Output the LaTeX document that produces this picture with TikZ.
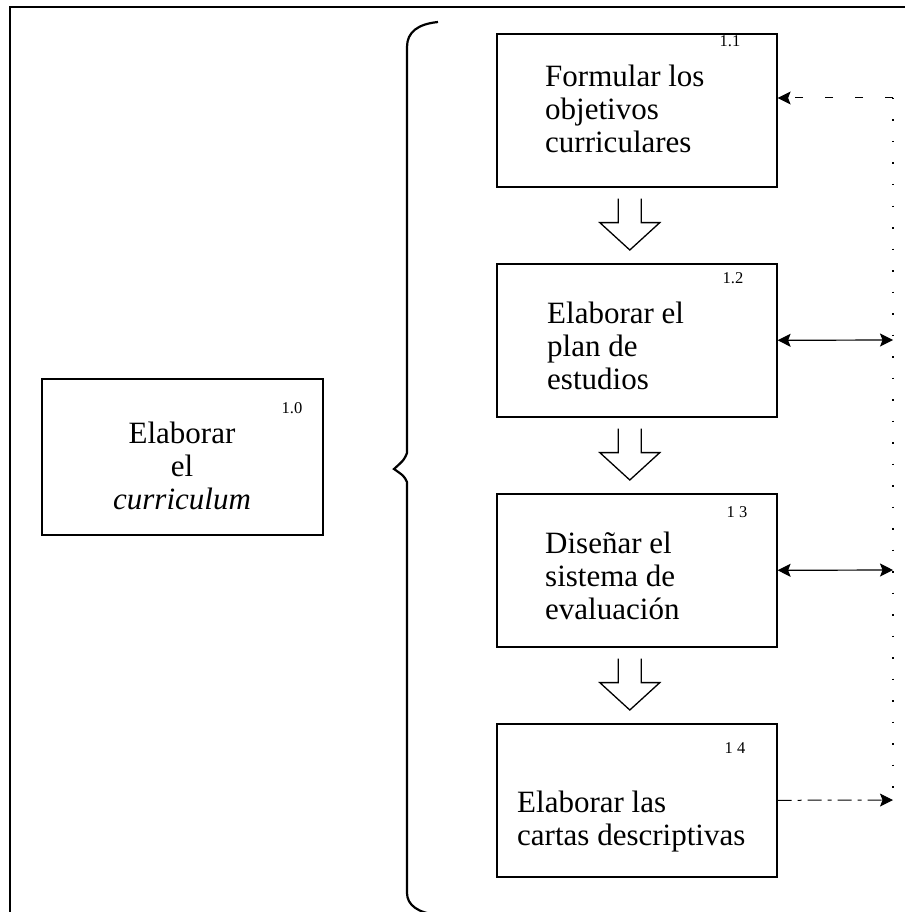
\documentclass[tikz,border=0pt]{standalone}
\usepackage{fontspec}
\setmainfont{Liberation Serif}
\usetikzlibrary{arrows.meta,calc}
\newcommand\hollowarr[2]{%
  \draw[hollow] let \p1=(#1.south), \p2=(#2.north) in
    (\x1-18.5pt,\y1-11pt) -- (\x1-18.5pt,\y1-35pt) -- (\x1-37pt,\y1-35pt) --
    (\x1-7pt,\y2+13pt) -- (\x1+23pt,\y1-35pt) -- (\x1+4.5pt,\y1-35pt) --
    (\x1+4.5pt,\y1-11pt);}
\begin{document}
\begin{tikzpicture}[x=1pt,y=-1pt,
  box/.style={draw,line width=1.6pt,minimum width=280pt,minimum height=153pt,
    inner sep=0pt,anchor=north west},
  txt/.style={anchor=base west,inner sep=0pt,font=\fontsize{31}{33}\selectfont},
  num/.style={anchor=base,inner sep=0pt,font=\fontsize{16.5}{18}\selectfont},
  hollow/.style={line width=1.3pt,line join=miter},
  tipline/.style={-{Stealth[length=13pt,width=13pt,inset=2.5pt]},line width=1pt},
  dbl/.style={{Stealth[length=13pt,width=13pt,inset=2.5pt]}-{Stealth[length=13pt,width=13pt,inset=2.5pt]},line width=1.2pt},
  dotline/.style={line width=1.2pt,dash pattern=on 1.5pt off 20pt}]
\useasboundingbox (0,0) rectangle (904,912);
% outer frame
\draw[line width=1.4pt] (10,930) -- (10,7) -- (930,7);
% main box
\node[box,minimum width=281pt,minimum height=156pt] (b10) at (41,378) {};
\node[anchor=base,inner sep=0pt,font=\fontsize{31}{33}\selectfont] (t10) at (182,443)
  {\begin{tabular}[t]{@{}c@{}}Elaborar\\el\\\textit{curriculum}\end{tabular}};
\node[num] (n10) at (292,413) {1.0};
% brace
\draw[line width=2.2pt] (438,22) .. controls (418,24) and (407,32) .. (407,47)
  -- (407,453) .. controls (404,460) .. (394,469) .. controls (404,476) .. (407,482)
  -- (407,893) .. controls (407,905) and (418,913) .. (438,915);
% right boxes
\node[box] (b11) at (496,33) {};
\node[box] (b12) at (496,263) {};
\node[box] (b13) at (496,493) {};
\node[box] (b14) at (496,723) {};
\node[txt] (t11) at (545,87)
  {\begin{tabular}[t]{@{}l@{}}Formular los\\objetivos\\curriculares\end{tabular}};
\node[txt] (t12) at (547,323)
  {\begin{tabular}[t]{@{}l@{}}Elaborar el\\plan de\\estudios\end{tabular}};
\node[txt] (t13) at (545,553)
  {\begin{tabular}[t]{@{}l@{}}Diseñar el\\sistema de\\evaluación\end{tabular}};
\node[txt] (t14) at (517,812)
  {\begin{tabular}[t]{@{}l@{}}Elaborar las\\cartas descriptivas\end{tabular}};
\node[num] (n11) at (730,47) {1.1};
\node[num] (n12) at (733,283) {1.2};
\node[num] (n13) at (737,517) {1 3};
\node[num] (n14) at (735,753) {1 4};
% hollow arrows
\hollowarr{b11}{b12}
\hollowarr{b12}{b13}
\hollowarr{b13}{b14}
% right connectors
\coordinate (r1) at (893,98);
\coordinate (r2) at (893,340);
\coordinate (r3) at (893,570);
\coordinate (r4) at (893,800);
\coordinate (rb) at (893,790);
\draw[dotline] (r1) -- (rb);
\draw[tipline,dash pattern=on 8pt off 22pt] (r1) -- (r1 -| b11.east);
\draw[dbl] (b12.east) -- (r2);
\draw[dbl] (b13.east) -- (r3);
\draw[tipline,dash pattern=on 14pt off 6pt on 4pt off 6pt] (b14.east) -- (r4);
\end{tikzpicture}
\end{document}
